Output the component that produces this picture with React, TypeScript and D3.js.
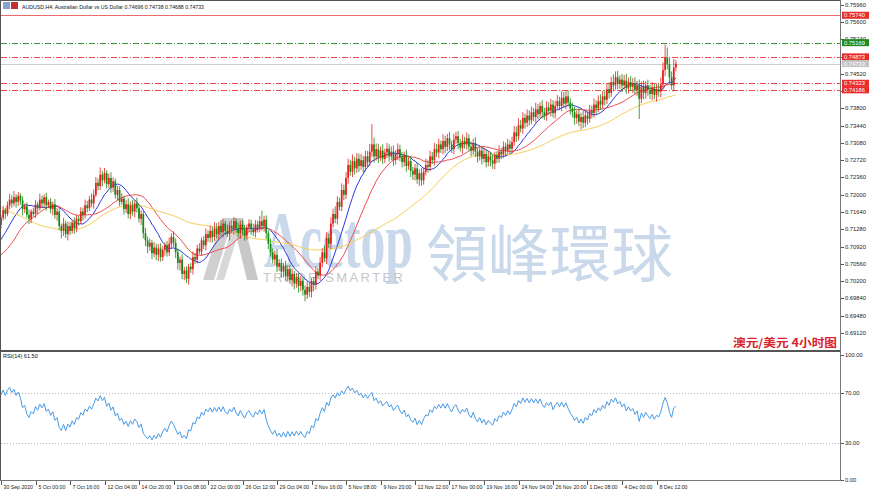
import React from 'react';
import * as d3 from 'd3';

// ---------- DATA ----------
const header = 'AUDUSD,H4:  Australian Dollar vs US Dollar  0.74696 0.74738 0.74688 0.74733';

// closes in pips (x 0.0001)
const closesPips = [
  7152, 7168, 7160, 7178, 7190,
  7182, 7195, 7185, 7198, 7188,
  7170, 7176, 7158, 7150, 7165, 7160,
  7180, 7172, 7190, 7182, 7195, 7178, 7185, 7170, 7180,
  7158, 7165, 7135, 7125,
  7140, 7118, 7135, 7125, 7142, 7130, 7150,
  7145, 7165, 7158, 7178, 7172,
  7190, 7182, 7200,
  7225, 7218, 7242,
  7230, 7245, 7222, 7235, 7215, 7228,
  7200, 7210, 7185,
  7192, 7170, 7180, 7160, 7178, 7165,
  7182, 7172,
  7150, 7160, 7120, 7105, 7092,
  7100, 7078, 7090, 7075, 7088, 7070, 7085, 7095, 7080,
  7098, 7112, 7100,
  7080, 7058, 7065, 7035, 7042, 7025,
  7050, 7045, 7070, 7065, 7088, 7082,
  7105, 7095, 7118, 7110, 7125, 7112, 7130,
  7118, 7135, 7122, 7140, 7125, 7118, 7136, 7128, 7145, 7130, 7120, 7138, 7126, 7115, 7132, 7140, 7128, 7122, 7138, 7130, 7145, 7135,
  7148, 7120, 7098, 7080,
  7065, 7075, 7050, 7058,
  7040, 7052, 7030, 7045, 7022, 7035, 7015, 7028, 7010, 7020,
  7002, 6992, 7008, 6998,
  7020, 7012, 7040, 7032, 7058,
  7080, 7068, 7110, 7098, 7140, 7160, 7150,
  7185, 7175, 7210, 7200, 7235,
  7262, 7248, 7270, 7255, 7275, 7260,
  7272, 7258, 7280, 7268, 7290,
  7305, 7280, 7295, 7278,
  7292, 7275, 7288, 7296, 7280, 7290, 7272, 7285, 7295, 7278, 7268, 7282, 7260, 7270, 7250,
  7242, 7255, 7232, 7245, 7230, 7248, 7262,
  7258, 7280, 7272, 7295, 7288, 7305,
  7295, 7312, 7300, 7318, 7305, 7295, 7315, 7322, 7308, 7298, 7312, 7305, 7318, 7300, 7292, 7308, 7290,
  7280, 7292, 7275, 7285, 7268, 7280, 7272, 7265, 7282, 7275, 7290,
  7285, 7300, 7292, 7305, 7296, 7310,
  7330, 7322, 7345, 7338, 7360, 7350, 7365, 7355,
  7372, 7362, 7378, 7368, 7385, 7372, 7365, 7382, 7375, 7388, 7370, 7385, 7395, 7385,
  7402, 7390, 7405, 7392, 7380, 7372, 7360,
  7368, 7352, 7362, 7350, 7365, 7358, 7375,
  7370, 7388, 7380, 7395, 7388, 7405, 7398,
  7420, 7412, 7435, 7428, 7445, 7432, 7440,
  7428, 7438, 7422, 7435, 7425, 7432, 7418, 7428, 7400,
  7425, 7412, 7428, 7418, 7410, 7422, 7408, 7420, 7415, 7430,
  7460, 7485, 7472,
  7445, 7428,
  7465, 7473,
];

const upperWickPips = [
  6,9,5,8,12,9,13,6,8,5,9,6,8,11,5,8,9,6,12,8,
  6,9,5,8,6,11,8,9,5,12,6,9,8,5,11,8,6,9,8,12,
  9,8,13,11,12,9,15,8,11,6,9,12,8,6,9,8,11,6,9,13,
  8,11,6,12,9,8,6,11,8,9,6,12,8,9,11,8,6,9,13,8,
  12,9,8,6,11,8,9,6,8,12,9,8,11,6,9,12,8,11,9,13,
  11,8,12,9,6,13,8,11,9,6,12,8,9,11,6,9,8,12,9,8,
  11,22,8,9,6,11,8,9,12,8,9,6,11,8,9,12,6,9,8,11,
  8,9,12,8,6,9,11,8,12,9,14,12,9,13,11,16,12,9,14,11,
  12,13,11,14,9,12,11,13,9,12,11,16,42,14,12,11,9,13,8,12,
  9,11,13,8,12,9,11,8,12,9,11,8,9,12,8,11,9,13,11,12,
  9,13,11,12,8,14,11,9,13,8,12,9,11,8,13,9,12,8,11,9,
  12,8,11,9,13,8,11,9,12,8,9,13,8,11,9,12,8,11,13,12,
  14,11,12,9,13,11,12,9,14,11,8,12,9,13,11,12,9,11,13,9,
  14,12,11,13,9,12,11,8,12,9,13,11,9,12,11,13,9,12,14,11,
  13,12,14,11,16,12,13,9,12,11,14,9,12,11,13,9,12,11,13,9,
  12,11,13,9,12,11,14,16,28,22,13,12,18,8,
];

const lowerWickPips = [
  8,6,11,5,8,9,6,12,8,9,13,8,6,11,9,6,8,12,5,9,
  8,11,6,9,13,8,12,9,16,11,8,13,9,6,11,8,9,6,12,8,
  9,6,8,11,5,9,8,12,6,9,8,11,9,8,12,9,6,11,8,9,
  11,8,12,9,8,13,11,12,14,9,12,8,11,13,9,8,12,9,8,11,
  9,12,14,16,11,13,9,12,8,11,9,8,6,9,8,11,8,9,12,8,
  9,12,8,11,9,6,13,8,11,9,8,12,9,11,8,9,12,8,11,9,
  8,9,12,13,11,9,8,12,11,9,13,12,9,11,8,13,12,9,14,11,
  12,14,9,11,12,13,9,8,11,9,8,12,9,11,8,9,12,8,9,11,
  9,12,8,11,13,9,12,8,11,9,12,8,11,13,9,12,8,11,9,12,
  11,8,12,9,13,8,11,9,12,8,13,11,12,9,14,11,9,8,12,9,
  8,11,9,12,8,11,13,9,12,8,11,9,13,8,12,9,11,8,12,9,
  11,13,9,12,8,11,9,13,11,12,9,8,11,9,12,8,11,9,8,12,
  9,8,11,12,9,11,8,9,12,11,8,13,9,11,8,12,9,11,8,9,
  11,9,12,8,13,11,14,12,9,16,11,9,12,8,11,9,12,8,11,9,
  12,9,11,8,13,9,12,11,14,9,12,11,9,13,8,12,42,9,13,12,
  12,11,13,9,14,11,12,9,13,11,12,9,13,8,
];

// estimated closes before the visible window (warm-up for MA / RSI)
const priorClosesPips = [
  7295, 7300, 7305, 7298, 7302, 7310, 7305, 7300, 7295, 7290, 7298, 7305, 7300, 7295, 7292, 7298, 7300, 7295,
  7280, 7265, 7250, 7245, 7238, 7240,
  7230, 7215, 7200, 7190, 7175, 7170,
  7160, 7140, 7125, 7110, 7100, 7095,
  7085, 7070, 7065, 7060, 7055, 7058,
  7030, 7015, 7010, 7020, 7035, 7045,
  7060, 7072, 7080, 7085, 7090, 7095,
  7100, 7108, 7115, 7118, 7125, 7138,
];

const timeLabels = [
  '30 Sep 2020', '5 Oct 00:00', '7 Oct 16:00', '12 Oct 04:00', '14 Oct 20:00', '19 Oct 08:00',
  '22 Oct 00:00', '26 Oct 12:00', '29 Oct 04:00', '2 Nov 16:00', '5 Nov 08:00', '9 Nov 20:00',
  '12 Nov 12:00', '17 Nov 00:00', '19 Nov 16:00', '24 Nov 04:00', '26 Nov 20:00', '1 Dec 08:00',
  '4 Dec 00:00', '8 Dec 12:00',
];
const barsPerLabel = 16;

const priceTicks = [
  0.7596, 0.756, 0.7524, 0.7488, 0.7452, 0.7416, 0.738, 0.7344, 0.7308, 0.7272,
  0.7236, 0.72, 0.7164, 0.7128, 0.7092, 0.7056, 0.702, 0.6984, 0.6948, 0.6912,
];
const rsiTicks = [100, 70, 30, 0];
const rsiLevels = [70, 30];

const levelPrices = [0.7574, 0.75169, 0.74873, 0.74323, 0.74186];
const levelKinds = ['solidRed', 'dashGreen', 'dashRed', 'dashRed', 'dashRed'];
const lastPrice = 0.74733;

const maPeriods = [12, 24, 60];
const rsiPeriod = 14;
const rsiCaption = 'RSI(14) 61.50';
const titleCn = '澳元/美元  4小时图';
const brandLatin = 'Acetop';
const brandSlogan = 'TRADE SMARTER';
const brandCn = '領峰環球';

// ---------- STYLE / LAYOUT ----------
const W = 870;
const H = 494;
const plotL = 1;
const plotR = 840;
const mainTop = 0;
const mainBottom = 350;
const rsiBottom = 480;
const barStep = 34.5 / 16;
const UP = '#ec1c1c';
const DOWN = '#138a13';
const maColors = ['#2a36e0', '#ee4b4b', '#f6cf55'];
const kindStyle: Record<string, { stroke: string; dash: string | null; bg: string }> = {
  solidRed: { stroke: '#ec6a6a', dash: null, bg: '#ea2b2b' },
  dashGreen: { stroke: '#3a983a', dash: '6,2,1,2', bg: '#1f8a1f' },
  dashRed: { stroke: '#ec4a4a', dash: '6,2,1,2', bg: '#ea2b2b' },
};
const FONT = '"Liberation Sans", Arial, sans-serif';

function sma(all: number[], n: number, start: number, count: number) {
  const out: number[] = [];
  for (let i = 0; i < count; i++) {
    const idx = start + i;
    let s = 0;
    for (let k = idx - n + 1; k <= idx; k++) s += all[k];
    out.push(s / n);
  }
  return out;
}

function rsiCalc(all: number[], n: number) {
  const out: number[] = new Array(all.length).fill(NaN);
  let g = 0, l = 0;
  for (let i = 1; i <= n; i++) {
    const d = all[i] - all[i - 1];
    if (d > 0) g += d; else l -= d;
  }
  g /= n; l /= n;
  out[n] = l === 0 ? 100 : 100 - 100 / (1 + g / l);
  for (let i = n + 1; i < all.length; i++) {
    const d = all[i] - all[i - 1];
    g = (g * (n - 1) + Math.max(d, 0)) / n;
    l = (l * (n - 1) + Math.max(-d, 0)) / n;
    out[i] = l === 0 ? 100 : 100 - 100 / (1 + g / l);
  }
  return out;
}

export default function App() {
  const closes = closesPips.map((p) => p / 10000);
  const prior = priorClosesPips.map((p) => p / 10000);
  const all = prior.concat(closes);
  const P = prior.length;
  const N = closes.length;

  const x = d3.scaleLinear().domain([0, (plotR - plotL) / barStep]).range([plotL, plotR]);
  const y = d3.scaleLinear().domain([0.68766, 0.76058]).range([mainBottom, mainTop]);
  const yr = d3.scaleLinear().domain([0, 100]).range([rsiBottom, 355]);

  const mas = maPeriods.map((n) => sma(all, n, P, N));
  const rsiAll = rsiCalc(all, rsiPeriod);
  const rsi = rsiAll.slice(P);

  const line = d3.line<number>().x((_, i) => x(i)).y((d) => y(d));
  const rline = d3.line<number>().x((_, i) => x(i)).y((d) => yr(d));

  const candles = closes.map((c, i) => {
    const o = i === 0 ? prior[P - 1] : closes[i - 1];
    const hi = Math.max(o, c) + upperWickPips[i] / 10000;
    const lo = Math.min(o, c) - lowerWickPips[i] / 10000;
    const up = c >= o;
    const cx = x(i);
    const yt = y(Math.max(o, c));
    const yb = y(Math.min(o, c));
    return (
      <g key={i}>
        <line x1={cx} x2={cx} y1={y(hi)} y2={y(lo)} stroke={up ? UP : DOWN} strokeWidth={0.8} />
        <rect x={cx - 0.85} y={yt} width={1.7} height={Math.max(0.7, yb - yt)} fill={up ? UP : DOWN} />
      </g>
    );
  });

  return (
    <svg width={W} height={H} style={{ position: 'absolute', left: 0, top: 0, background: '#fff' }}
      fontFamily={FONT}>
      <rect x={0} y={0} width={W} height={H} fill="#fff" />

      {/* watermark */}
      <g>
        <polygon points="203,280 222,218 233,218 214,280" fill="#cfcfcf" />
        <polygon points="216,280 232,228 240,228 224,280" fill="#d8d8d8" />
        <polygon points="232,218 243,218 258,280 247,280" fill="#c8c8c8" />
        <text x={264} y={267} fontFamily='"Liberation Serif", "DejaVu Serif", serif' fontWeight={700} fontSize={80}
          fill="#c9d8ea" textLength={149} lengthAdjust="spacingAndGlyphs">{brandLatin}</text>
        <text x={263} y={282} fontSize={13} fill="#c6c6c6"
          textLength={140} lengthAdjust="spacing">{brandSlogan}</text>
        <text x={426} y={277} fontFamily='"Noto Sans CJK TC", sans-serif' fontSize={62} fill="#c9d8ea"
          textLength={247} lengthAdjust="spacingAndGlyphs">{brandCn}</text>
      </g>

      {/* level lines */}
      {levelPrices.map((v, i) => {
        const st = kindStyle[levelKinds[i]];
        return (
          <line key={'lv' + i} x1={plotL} x2={plotR} y1={Math.round(y(v)) + 0.5} y2={Math.round(y(v)) + 0.5}
            stroke={st.stroke} strokeWidth={1} strokeDasharray={st.dash ?? undefined} />
        );
      })}
      <line x1={plotL} x2={plotR} y1={Math.round(y(lastPrice)) + 0.5} y2={Math.round(y(lastPrice)) + 0.5}
        stroke="#cfcfcf" strokeWidth={1} />

      {/* MAs */}
      {mas.map((m, k) => (
        <path key={'ma' + k} d={line(m) ?? ''} fill="none" stroke={maColors[k]} strokeWidth={1} />
      ))}

      {/* candles */}
      {candles}

      {/* header */}
      <rect x={3} y={2} width={7} height={7} fill="#8aa0d0" />
      <rect x={11} y={2} width={7} height={7} fill="#c03030" />
      <text x={22} y={9} fontSize={5.6} fill="#111" textLength={182} lengthAdjust="spacingAndGlyphs">{header}</text>

      {/* chinese caption */}
      <text x={733} y={347} fontFamily='"Noto Sans CJK SC", sans-serif' fontWeight={700} fontSize={11}
        fill="#d8232a" textLength={104} lengthAdjust="spacingAndGlyphs">{titleCn}</text>

      {/* RSI */}
      {rsiLevels.map((lv) => (
        <line key={'rl' + lv} x1={plotL} x2={plotR} y1={Math.round(yr(lv)) + 0.5} y2={Math.round(yr(lv)) + 0.5}
          stroke="#b8b8b8" strokeDasharray="1,2" />
      ))}
      <path d={rline(rsi) ?? ''} fill="none" stroke="#4a9be6" strokeWidth={1} />
      <text x={3} y={358} fontSize={5.6} fill="#111">{rsiCaption}</text>

      {/* frames */}
      <line x1={0.5} x2={0.5} y1={0} y2={rsiBottom} stroke="#555" />
      <line x1={0} x2={plotR} y1={0.5} y2={0.5} stroke="#555" />
      <rect x={0} y={mainBottom} width={plotR + 1} height={2} fill="#555" />
      <line x1={plotR + 0.5} x2={plotR + 0.5} y1={0} y2={rsiBottom + 1} stroke="#777" />
      <line x1={0} x2={plotR + 1} y1={rsiBottom + 0.5} y2={rsiBottom + 0.5} stroke="#777" />

      {/* price axis */}
      {priceTicks.map((v) => (
        <g key={'pt' + v}>
          <line x1={plotR + 1} x2={plotR + 4} y1={Math.round(y(v)) + 0.5} y2={Math.round(y(v)) + 0.5} stroke="#555" />
          <text x={plotR + 5} y={y(v) + 2} fontSize={5.8} fill="#222">{v.toFixed(5)}</text>
        </g>
      ))}
      {levelPrices.map((v, i) => {
        const st = kindStyle[levelKinds[i]];
        return (
          <g key={'lb' + i}>
            <rect x={plotR + 2} y={y(v) - 3.5} width={27} height={7} fill={st.bg} />
            <text x={plotR + 4} y={y(v) + 2} fontSize={5.8} fill="#fff">{v.toFixed(5)}</text>
          </g>
        );
      })}
      <rect x={plotR + 2} y={y(lastPrice) - 3.5} width={27} height={7} fill="#c4c4c4" />
      <text x={plotR + 4} y={y(lastPrice) + 2} fontSize={5.8} fill="#fff">{lastPrice.toFixed(5)}</text>

      {/* RSI axis */}
      {rsiTicks.map((v) => (
        <g key={'rt' + v}>
          <line x1={plotR + 1} x2={plotR + 4} y1={Math.round(yr(v)) + 0.5} y2={Math.round(yr(v)) + 0.5} stroke="#555" />
          <text x={plotR + 5} y={yr(v) + 2} fontSize={5.8} fill="#222">{v.toFixed(2)}</text>
        </g>
      ))}

      {/* time axis */}
      {timeLabels.map((t, k) => {
        const bx = Math.round(x(k * barsPerLabel)) + 0.5;
        return (
          <g key={'tl' + k}>
            <line x1={bx} x2={bx} y1={rsiBottom + 1} y2={rsiBottom + 5} stroke="#555" />
            <text x={bx + 2} y={rsiBottom + 9} fontSize={5.2} fill="#222">{t}</text>
          </g>
        );
      })}
    </svg>
  );
}
